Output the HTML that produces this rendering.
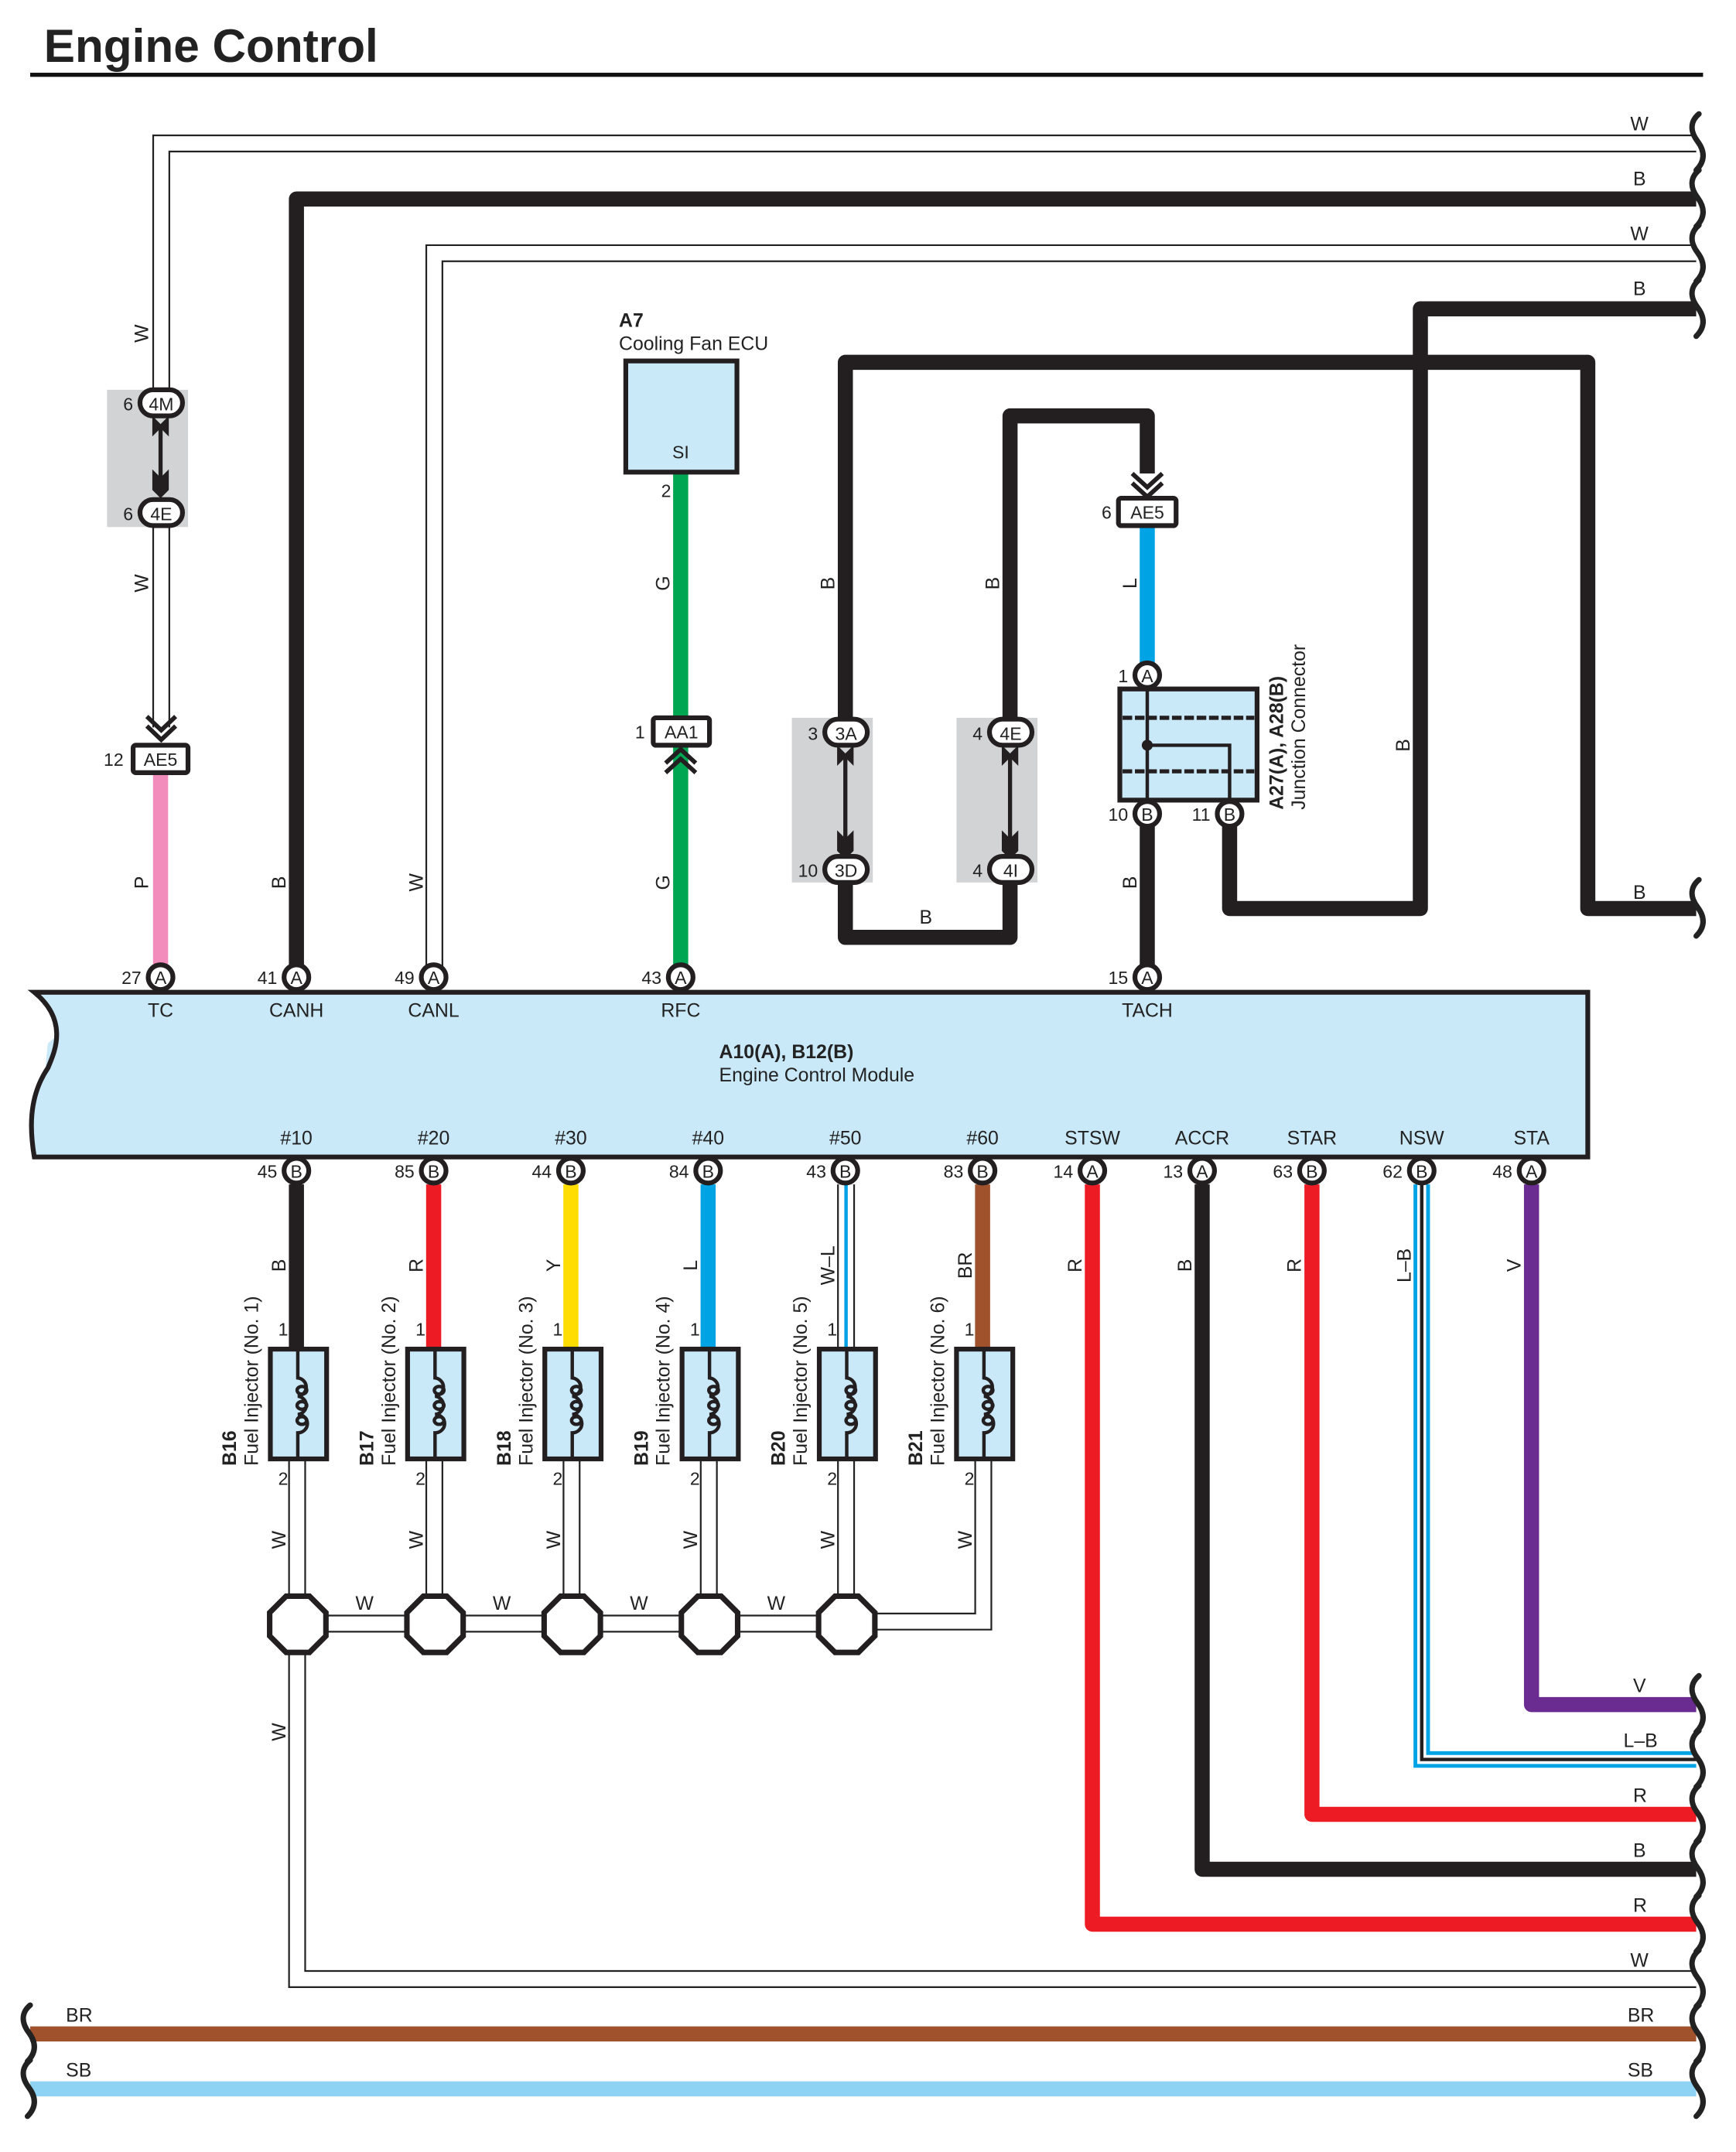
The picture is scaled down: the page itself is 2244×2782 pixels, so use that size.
<!DOCTYPE html>
<html><head><meta charset="utf-8"><style>
html,body{margin:0;padding:0;background:#fff}
svg{display:block}
text{font-family:"Liberation Sans",Arial,sans-serif;fill:#222}
</style></head><body>
<svg width="2244" height="2782" viewBox="0 0 1265 1568" preserveAspectRatio="none" xmlns="http://www.w3.org/2000/svg">
<defs>
<g id="wv"><path d="M0,-21 c-6,5 -7,12 -1,20 c6,8 5,15 -1,21" fill="none" stroke="#222" stroke-width="4" stroke-linecap="round"/></g>
</defs>
<rect width="1265" height="1568" fill="#fff"/>
<text x="32" y="45" font-size="34" font-weight="bold" fill="#111">Engine Control</text>
<rect x="22" y="53" width="1219" height="3" fill="#111"/>

<!-- gray connector boxes -->
<rect x="78" y="284" width="59" height="100" fill="#d1d3d4"/>
<rect x="577" y="523" width="59" height="120" fill="#d1d3d4"/>
<rect x="697" y="523" width="59" height="120" fill="#d1d3d4"/>

<!-- White wires (outline style) -->
<g fill="none" stroke-linejoin="miter">
<path d="M117.5,284 V104.5 H1236" stroke="#222" stroke-width="13"/>
<path d="M117.5,284 V104.5 H1236" stroke="#fff" stroke-width="10.5"/>
<path d="M117.5,384 V530" stroke="#222" stroke-width="13"/>
<path d="M117.5,384 V530" stroke="#fff" stroke-width="10.5"/>
<path d="M316.5,704 V184.5 H1236" stroke="#222" stroke-width="13"/>
<path d="M316.5,704 V184.5 H1236" stroke="#fff" stroke-width="10.5"/>
<path d="M216.5,1063 V1442 H1236" stroke="#222" stroke-width="13"/>
<path d="M216.5,1063 V1442 H1236" stroke="#fff" stroke-width="10.5"/>
<path d="M316.5,1063 V1183 M416.5,1063 V1183 M516.5,1063 V1183 M616.5,1063 V1183 M716.5,1063 V1181.5 H616 M216,1183 H616 M616.5,863 V983" stroke="#222" stroke-width="13"/>
<path d="M316.5,1063 V1183 M416.5,1063 V1183 M516.5,1063 V1183 M616.5,1063 V1183 M716.5,1063 V1181.5 H616 M216,1183 H616 M616.5,863 V983" stroke="#fff" stroke-width="10.5"/>
<path d="M616.5,863 V983" stroke="#00a0e3" stroke-width="2.5"/>
</g>

<!-- Black wires -->
<g fill="none" stroke="#231f20" stroke-width="11" stroke-linejoin="round">
<path d="M216,704 V145 H1236"/>
<path d="M896,600 V662 H1035 V225 H1236"/>
<path d="M616,525 V264 H1157 V662 H1236"/>
<path d="M736,525 V303 H836 V345"/>
<path d="M616,641 V683 H736 V641"/>
<path d="M836,600 V704"/>
<path d="M216,863 V983"/>
<path d="M876,863 V1362 H1236"/>
</g>
<!-- Colored wires -->
<g fill="none" stroke-width="11" stroke-linejoin="round">
<path d="M117,563 V704" stroke="#f18cbd"/>
<path d="M496,344 V523 M496,543 V704" stroke="#00a651"/>
<path d="M836,383 V484" stroke="#00a3e4"/>
<path d="M316,863 V983" stroke="#ed1c24"/>
<path d="M416,863 V983" stroke="#ffdd00"/>
<path d="M516,863 V983" stroke="#00a3e4"/>
<path d="M716,863 V983" stroke="#a0522d"/>
<path d="M796,863 V1402 H1236" stroke="#ed1c24"/>
<path d="M956,863 V1322 H1236" stroke="#ed1c24"/>
<path d="M1116,863 V1242 H1236" stroke="#6b2c91"/>
<path d="M1036,863 V1282 H1236" stroke="#00a3e4" stroke-width="12" stroke-linejoin="miter"/>
<path d="M1036,863 V1282 H1236" stroke="#fff" stroke-width="6.5" stroke-linejoin="miter"/>
<path d="M1036,863 V1282 H1236" stroke="#231f20" stroke-width="2.5" stroke-linejoin="miter"/>
<path d="M22,1482 H1236" stroke="#a0522d"/>
<path d="M22,1522 H1236" stroke="#8ed3f4"/>
</g>

<!-- wavy ends right -->
<g>
<use href="#wv" x="1238" y="104"/><use href="#wv" x="1238" y="145"/><use href="#wv" x="1238" y="185"/><use href="#wv" x="1238" y="225"/>
<use href="#wv" x="1238" y="662"/><use href="#wv" x="1238" y="1242"/><use href="#wv" x="1238" y="1282"/><use href="#wv" x="1238" y="1322"/>
<use href="#wv" x="1238" y="1362"/><use href="#wv" x="1238" y="1402"/><use href="#wv" x="1238" y="1442"/><use href="#wv" x="1238" y="1482"/><use href="#wv" x="1238" y="1522"/>
<use href="#wv" x="22" y="1482"/><use href="#wv" x="22" y="1522"/>
</g>

<!-- right wire labels -->
<g font-size="14">
<text x="1188" y="95">W</text><text x="1190" y="135">B</text><text x="1188" y="175">W</text><text x="1190" y="215">B</text>
<text x="1190" y="655">B</text><text x="1190" y="1233">V</text><text x="1183" y="1273">L–B</text><text x="1190" y="1313">R</text>
<text x="1190" y="1353">B</text><text x="1190" y="1393">R</text><text x="1188" y="1433">W</text>
<text x="1186" y="1473">BR</text><text x="1186" y="1513">SB</text>
<text x="48" y="1473">BR</text><text x="48" y="1513">SB</text>
<text x="670" y="673">B</text>
<text x="259" y="1173">W</text><text x="359" y="1173">W</text><text x="459" y="1173">W</text><text x="559" y="1173">W</text>
</g>
<!-- rotated wire labels -->
<g font-size="14" text-anchor="middle">
<text transform="translate(108,243) rotate(-90)">W</text>
<text transform="translate(108,425) rotate(-90)">W</text>
<text transform="translate(108,643) rotate(-90)">P</text>
<text transform="translate(208,643) rotate(-90)">B</text>
<text transform="translate(308,643) rotate(-90)">W</text>
<text transform="translate(488,425) rotate(-90)">G</text>
<text transform="translate(488,643) rotate(-90)">G</text>
<text transform="translate(608,425) rotate(-90)">B</text>
<text transform="translate(728,425) rotate(-90)">B</text>
<text transform="translate(828,425) rotate(-90)">L</text>
<text transform="translate(828,643) rotate(-90)">B</text>
<text transform="translate(1027,543) rotate(-90)">B</text>
<text transform="translate(208,922) rotate(-90)">B</text>
<text transform="translate(308,922) rotate(-90)">R</text>
<text transform="translate(408,922) rotate(-90)">Y</text>
<text transform="translate(508,922) rotate(-90)">L</text>
<text transform="translate(608,922) rotate(-90)">W–L</text>
<text transform="translate(708,922) rotate(-90)">BR</text>
<text transform="translate(788,922) rotate(-90)">R</text>
<text transform="translate(868,922) rotate(-90)">B</text>
<text transform="translate(948,922) rotate(-90)">R</text>
<text transform="translate(1028,922) rotate(-90)">L–B</text>
<text transform="translate(1108,922) rotate(-90)">V</text>
<text transform="translate(208,1122) rotate(-90)">W</text>
<text transform="translate(308,1122) rotate(-90)">W</text>
<text transform="translate(408,1122) rotate(-90)">W</text>
<text transform="translate(508,1122) rotate(-90)">W</text>
<text transform="translate(608,1122) rotate(-90)">W</text>
<text transform="translate(708,1122) rotate(-90)">W</text>
<text transform="translate(208,1262) rotate(-90)">W</text>
</g>

<!-- ECM -->
<path d="M25,723 H1157 V843 H25 C37,825 30,795 35,760 C50,750 42,735 25,723 Z" fill="#c9e8f8"/>
<path d="M25,723 C52,745 38,770 35,778 C20,800 22,825 25,843 H1157 V723 Z" fill="#c9e8f8" stroke="#231f20" stroke-width="3.5" stroke-linejoin="miter"/>
<g font-size="14" text-anchor="middle">
<text x="117" y="741">TC</text><text x="216" y="741">CANH</text><text x="316" y="741">CANL</text><text x="496" y="741">RFC</text><text x="836" y="741">TACH</text>
<text x="216" y="834">#10</text><text x="316" y="834">#20</text><text x="416" y="834">#30</text><text x="516" y="834">#40</text><text x="616" y="834">#50</text><text x="716" y="834">#60</text>
<text x="796" y="834">STSW</text><text x="876" y="834">ACCR</text><text x="956" y="834">STAR</text><text x="1036" y="834">NSW</text><text x="1116" y="834">STA</text>
</g>
<text x="524" y="771" font-size="14" font-weight="bold">A10(A), B12(B)</text>
<text x="524" y="788" font-size="14">Engine Control Module</text>

<!-- pin circles -->
<g font-size="13">
<g stroke="#231f20" stroke-width="3.5" fill="#fff">
<circle cx="117" cy="712" r="9"/><circle cx="216" cy="712" r="9"/><circle cx="316" cy="712" r="9"/><circle cx="496" cy="712" r="9"/><circle cx="836" cy="712" r="9"/>
<circle cx="216" cy="853" r="9"/><circle cx="316" cy="853" r="9"/><circle cx="416" cy="853" r="9"/><circle cx="516" cy="853" r="9"/><circle cx="616" cy="853" r="9"/><circle cx="716" cy="853" r="9"/>
<circle cx="796" cy="853" r="9"/><circle cx="876" cy="853" r="9"/><circle cx="956" cy="853" r="9"/><circle cx="1036" cy="853" r="9"/><circle cx="1116" cy="853" r="9"/>
<circle cx="836" cy="492" r="9"/><circle cx="836" cy="593" r="9"/><circle cx="896" cy="593" r="9"/>
</g>
<g text-anchor="middle">
<text x="117" y="717">A</text><text x="216" y="717">A</text><text x="316" y="717">A</text><text x="496" y="717">A</text><text x="836" y="717">A</text>
<text x="216" y="858">B</text><text x="316" y="858">B</text><text x="416" y="858">B</text><text x="516" y="858">B</text><text x="616" y="858">B</text><text x="716" y="858">B</text>
<text x="796" y="858">A</text><text x="876" y="858">A</text><text x="956" y="858">B</text><text x="1036" y="858">B</text><text x="1116" y="858">A</text>
<text x="836" y="497">A</text><text x="836" y="598">B</text><text x="896" y="598">B</text>
</g>
<g text-anchor="end">
<text x="103" y="717">27</text><text x="202" y="717">41</text><text x="302" y="717">49</text><text x="482" y="717">43</text><text x="822" y="717">15</text>
<text x="202" y="858">45</text><text x="302" y="858">85</text><text x="402" y="858">44</text><text x="502" y="858">84</text><text x="602" y="858">43</text><text x="702" y="858">83</text>
<text x="782" y="858">14</text><text x="862" y="858">13</text><text x="942" y="858">63</text><text x="1022" y="858">62</text><text x="1102" y="858">48</text>
<text x="822" y="497">1</text><text x="822" y="598">10</text><text x="882" y="598">11</text>
</g>
</g>

<!-- oval connectors with double arrows -->
<g stroke="#231f20" fill="#231f20">
<line x1="117" y1="310" x2="117" y2="356" stroke-width="3"/>
<path d="M111,303 L117,309 L123,303 V318 L117,312 L111,318 Z" stroke="none"/>
<path d="M111,347 L117,353 L123,347 V362 L117,368 L111,362 Z" stroke="none" transform="translate(0,-5)"/>
<line x1="616" y1="550" x2="616" y2="615" stroke-width="3"/>
<path d="M610,543 L616,549 L622,543 V558 L616,552 L610,558 Z" stroke="none"/>
<path d="M610,605 L616,611 L622,605 V620 L616,626 L610,620 Z" stroke="none"/>
<line x1="736" y1="550" x2="736" y2="615" stroke-width="3"/>
<path d="M730,543 L736,549 L742,543 V558 L736,552 L730,558 Z" stroke="none"/>
<path d="M730,605 L736,611 L742,605 V620 L736,626 L730,620 Z" stroke="none"/>
</g>
<g stroke="#231f20" stroke-width="3.5" fill="#fff">
<rect x="102" y="284" width="31" height="19" rx="9.5"/>
<rect x="102" y="364" width="31" height="19" rx="9.5"/>
<rect x="601" y="524" width="31" height="19" rx="9.5"/>
<rect x="601" y="624" width="31" height="19" rx="9.5"/>
<rect x="721" y="524" width="31" height="19" rx="9.5"/>
<rect x="721" y="624" width="31" height="19" rx="9.5"/>
</g>
<g font-size="13">
<g text-anchor="middle"><text x="117.5" y="299">4M</text><text x="117.5" y="379">4E</text><text x="616.5" y="539">3A</text><text x="616.5" y="639">3D</text><text x="736.5" y="539">4E</text><text x="736.5" y="639">4I</text></g>
<g text-anchor="end"><text x="97" y="299">6</text><text x="97" y="379">6</text><text x="596" y="539">3</text><text x="596" y="639">10</text><text x="716" y="539">4</text><text x="716" y="639">4</text></g>
</g>

<!-- rect connectors + chevrons -->
<g stroke="#231f20" stroke-width="3.5" fill="#fff">
<rect x="97" y="543" width="40" height="20" rx="2"/>
<rect x="476" y="523" width="41" height="20" rx="2"/>
<rect x="815" y="363" width="42" height="20" rx="2"/>
</g>
<g fill="none" stroke="#231f20" stroke-width="3.2">
<polyline points="107,522 117.5,532 128,522"/><polyline points="107,529 117.5,539 128,529"/>
<polyline points="485,556 496,546 507,556"/><polyline points="485,563 496,553 507,563"/>
<polyline points="825,345 836,355 847,345"/><polyline points="825,352 836,362 847,352"/>
</g>
<g font-size="13">
<text x="117" y="558" text-anchor="middle">AE5</text><text x="90" y="558" text-anchor="end">12</text>
<text x="496.5" y="538" text-anchor="middle">AA1</text><text x="470" y="538" text-anchor="end">1</text>
<text x="836" y="378" text-anchor="middle">AE5</text><text x="810" y="378" text-anchor="end">6</text>
</g>

<!-- A7 cooling fan ECU -->
<rect x="456" y="263" width="81" height="81" fill="#c9e8f8" stroke="#231f20" stroke-width="3.5"/>
<text x="451" y="238" font-size="14" font-weight="bold">A7</text>
<text x="451" y="255" font-size="14">Cooling Fan ECU</text>
<text x="496" y="334" font-size="13" text-anchor="middle">SI</text>
<text x="489" y="362" font-size="13" text-anchor="end">2</text>

<!-- Junction connector -->
<rect x="816" y="502" width="100" height="81" fill="#c9e8f8" stroke="#231f20" stroke-width="3.5"/>
<g stroke="#231f20" fill="none">
<line x1="818" y1="523" x2="914" y2="523" stroke-width="3" stroke-dasharray="7,2"/>
<line x1="818" y1="562" x2="914" y2="562" stroke-width="3" stroke-dasharray="7,2"/>
<path d="M836,502 V583 M836,543 H896 V583" stroke-width="2.5"/>
</g>
<circle cx="836" cy="543" r="4" fill="#231f20"/>
<text transform="translate(935,590) rotate(-90)" font-size="14" font-weight="bold">A27(A), A28(B)</text>
<text transform="translate(951,590) rotate(-90)" font-size="14">Junction Connector</text>

<!-- Fuel injectors -->
<g id="inj">
<rect x="197" y="983" width="41" height="80" fill="#c9e8f8" stroke="#231f20" stroke-width="3.5"/>
<path d="M217,983 V1004 a7,6.7 0 0 1 0,13.3 a7,6.7 0 0 1 0,13.3 a7,6.7 0 0 1 0,13.4 V1063" fill="none" stroke="#231f20" stroke-width="2.5"/>
<g fill="none" stroke="#231f20" stroke-width="2.5"><ellipse cx="220" cy="1013" rx="3.5" ry="2.8"/><ellipse cx="220" cy="1024" rx="3.5" ry="2.8"/><ellipse cx="220" cy="1035" rx="3.5" ry="2.8"/></g>
<text x="210" y="973" font-size="13" text-anchor="end">1</text>
<text x="210" y="1082" font-size="13" text-anchor="end">2</text>
</g>
<use href="#inj" x="100"/><use href="#inj" x="200"/><use href="#inj" x="300"/><use href="#inj" x="400"/><use href="#inj" x="500"/>
<g font-size="14">
<text transform="translate(172,1068) rotate(-90)" font-weight="bold">B16</text><text transform="translate(188,1068) rotate(-90)">Fuel Injector (No. 1)</text>
<text transform="translate(272,1068) rotate(-90)" font-weight="bold">B17</text><text transform="translate(288,1068) rotate(-90)">Fuel Injector (No. 2)</text>
<text transform="translate(372,1068) rotate(-90)" font-weight="bold">B18</text><text transform="translate(388,1068) rotate(-90)">Fuel Injector (No. 3)</text>
<text transform="translate(472,1068) rotate(-90)" font-weight="bold">B19</text><text transform="translate(488,1068) rotate(-90)">Fuel Injector (No. 4)</text>
<text transform="translate(572,1068) rotate(-90)" font-weight="bold">B20</text><text transform="translate(588,1068) rotate(-90)">Fuel Injector (No. 5)</text>
<text transform="translate(672,1068) rotate(-90)" font-weight="bold">B21</text><text transform="translate(688,1068) rotate(-90)">Fuel Injector (No. 6)</text>
</g>

<!-- splices -->
<g id="oct"><polygon points="208.5,1163 225.5,1163 237.5,1175 237.5,1192 225.5,1204 208.5,1204 196.5,1192 196.5,1175" fill="#fff" stroke="#231f20" stroke-width="4"/></g>
<use href="#oct" x="100"/><use href="#oct" x="200"/><use href="#oct" x="300"/><use href="#oct" x="400"/>
</svg>
</body></html>
